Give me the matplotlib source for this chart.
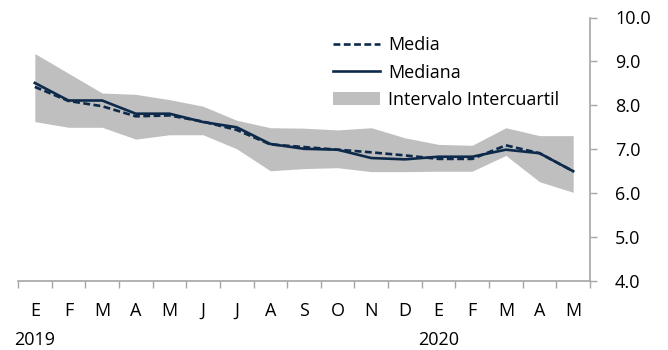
import numpy as np
import matplotlib
matplotlib.use("Agg")
import matplotlib.pyplot as plt
from matplotlib.patches import Patch
from matplotlib.lines import Line2D

# Datos (E 2019 a M 2020)
meses = ['E', 'F', 'M', 'A', 'M', 'J', 'J', 'A', 'S', 'O', 'N', 'D', 'E', 'F', 'M', 'A', 'M']
anios = {0: '2019', 12: '2020'}
media = [8.42, 8.10, 7.98, 7.75, 7.77, 7.63, 7.44, 7.11, 7.05, 6.99, 6.93, 6.86, 6.78, 6.78, 7.09, 6.91, 6.50]
mediana = [8.51, 8.11, 8.11, 7.81, 7.81, 7.62, 7.50, 7.12, 7.01, 6.99, 6.80, 6.77, 6.83, 6.83, 6.99, 6.91, 6.50]
q1 = [7.63, 7.50, 7.50, 7.23, 7.33, 7.33, 7.01, 6.51, 6.56, 6.58, 6.49, 6.49, 6.50, 6.50, 6.86, 6.26, 6.02]
q3 = [9.18, 8.73, 8.28, 8.25, 8.13, 7.98, 7.66, 7.49, 7.48, 7.44, 7.49, 7.26, 7.11, 7.09, 7.49, 7.31, 7.31]

azul = '#0E2A4B'
gris = '#BFBFBF'
eje = '#A6A6A6'

plt.rcParams['font.family'] = ['Open Sans', 'DejaVu Sans']
plt.rcParams['font.size'] = 13

fig = plt.figure(figsize=(6.68, 3.5), dpi=100)
ax = fig.add_axes([18 / 668, 1 - 281 / 350, 572 / 668, 263.5 / 350])

x = np.arange(len(meses))
ax.fill_between(x, q1, q3, color=gris, linewidth=0)
ax.plot(x, media, color=azul, lw=1.9, dashes=(2.6, 1.3))
ax.plot(x, mediana, color=azul, lw=1.9)

ax.set_xlim(-0.5, len(meses) - 0.5)
ax.set_ylim(4, 10)

# eje y a la derecha
ax.yaxis.tick_right()
ax.set_yticks(np.arange(4, 10.1, 1))
ax.set_yticklabels([f'{v:.1f}' for v in np.arange(4, 10.1, 1)])
ax.tick_params(axis='y', direction='out', length=5, width=1, color=eje, pad=13, labelsize=13)

# eje x: marcas entre categorias, etiquetas centradas
ax.set_xticks(np.arange(-0.5, len(meses), 1))
ax.set_xticklabels([])
ax.set_xticks(x, minor=True)
ax.set_xticklabels(meses, minor=True)
ax.tick_params(axis='x', which='major', direction='out', length=5, width=1, color=eje)
ax.tick_params(axis='x', which='minor', length=0, pad=15, labelsize=13)

for i, a in anios.items():
    ax.text(i, -0.225, a, transform=ax.get_xaxis_transform(), ha='center', va='center', fontsize=13)

for s in ['left', 'top']:
    ax.spines[s].set_visible(False)
for s in ['right', 'bottom']:
    ax.spines[s].set_color(eje)
    ax.spines[s].set_linewidth(1.2)

handles = [Line2D([], [], color=azul, lw=1.9, dashes=(2.6, 1.3)),
           Line2D([], [], color=azul, lw=1.9),
           Patch(facecolor=gris, edgecolor='none')]
ax.legend(handles, ['Media', 'Mediana', 'Intervalo Intercuartil'], loc='upper left',
          bbox_to_anchor=(0.551, 0.93), frameon=False, borderpad=0, borderaxespad=0,
          handlelength=2.6, handletextpad=0.45, labelspacing=0.53, fontsize=13)

fig.savefig('out.png', dpi=100)
